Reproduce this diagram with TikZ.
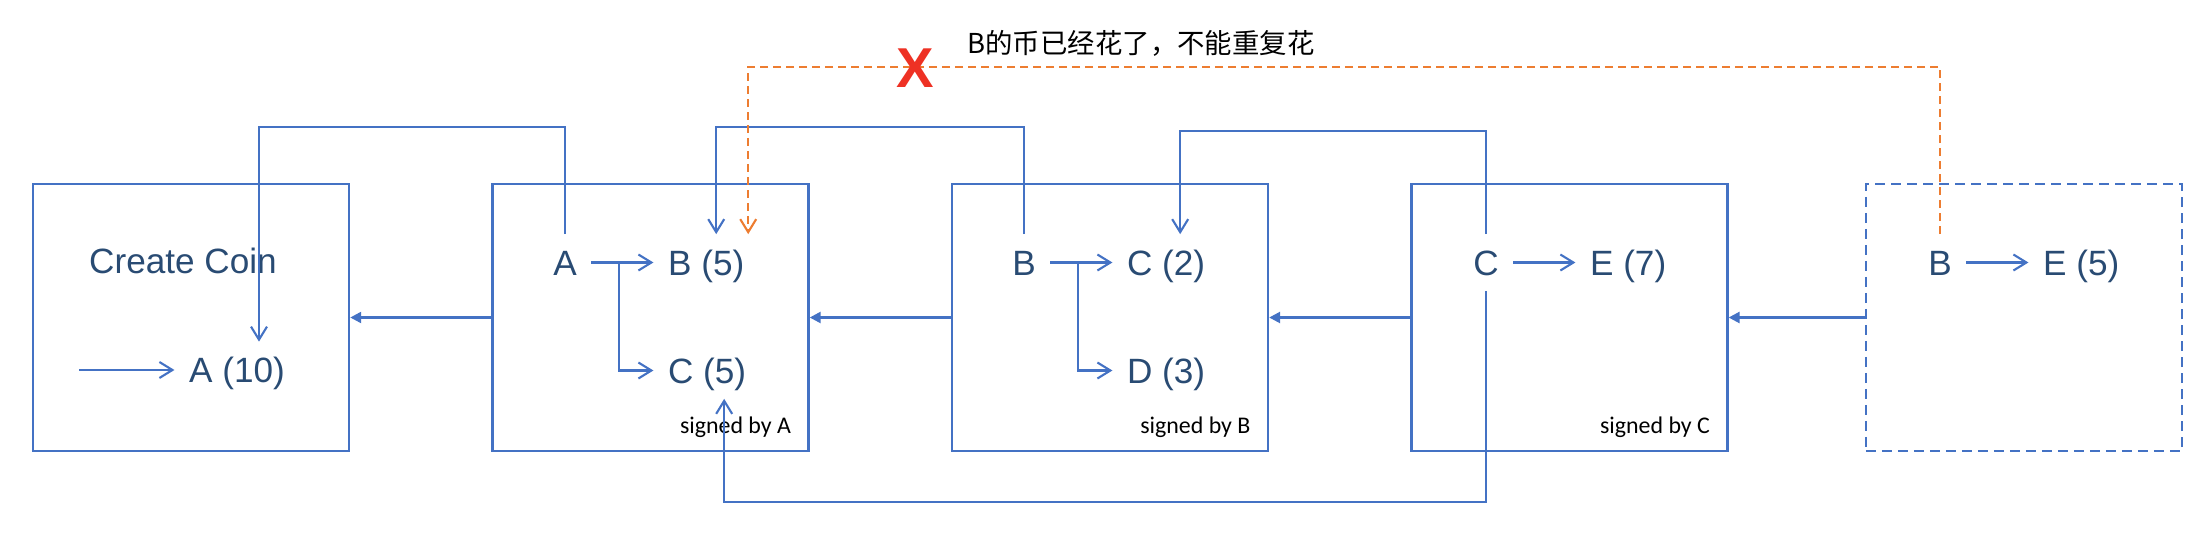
\documentclass[tikz,border=0pt]{standalone}
\usepackage{fontspec}
\setmainfont{Liberation Sans}
\newfontfamily\signfont{Carlito}
\newfontfamily\cjkfont{Noto Sans CJK SC}
\usetikzlibrary{arrows.meta,positioning}
\definecolor{lineblue}{HTML}{4472C4}
\definecolor{textnavy}{HTML}{294B73}
\definecolor{spentorange}{HTML}{ED7D31}
\definecolor{crossred}{HTML}{EE3124}

\begin{document}
\begin{tikzpicture}[
  node distance=1.41cm,
  block/.style={draw=lineblue,line width=0.7pt,minimum width=3.16cm,minimum height=2.67cm,inner sep=0pt},
  item/.style={text=textnavy,font=\fontsize{10pt}{12pt}\selectfont,text height=7.2pt,text depth=0pt,inner xsep=1.4mm,inner ysep=1.5mm},
  sign/.style={font=\signfont\fontsize{6.8pt}{8pt}\selectfont,inner sep=0pt},
  chain/.style={-{Triangle[length=1.1mm,width=1.1mm]},line width=0.7pt,lineblue},
  flow/.style={-{Straight Barb[length=1.3mm,width=1.6mm]},line width=0.6pt,lineblue},
  spent/.style={flow,spentorange,dash pattern=on 0.8mm off 0.5mm}
]
\useasboundingbox (0,0) rectangle (22.10,-5.34);
\node[block] (box1) at (1.91,-3.175) {};
\node[block,right=of box1] (box2) {};
\node[block,right=of box2] (box3) {};
\node[block,right=of box3] (box4) {};
\node[block,right=1.36cm of box4,dash pattern=on 1mm off 0.6mm] (box5) {};
\draw[chain] (box2) -- (box1);
\draw[chain] (box3) -- (box2);
\draw[chain] (box4) -- (box3);
\draw[chain] (box5) -- (box4);

\node[item] (coin) at (1.83,-2.61) {Create Coin};
\node[item] (a1) at (2.37,-3.70) {A (10)};
\coordinate[left=0.95cm of a1.west] (mint);
\draw[flow] (mint) -- (a1);

\node[item] (a2) at (5.65,-2.625) {A};
\node[item,right=0.62cm of a2] (b2) {B (5)};
\node[item,below=1.08cm of b2.west,anchor=west] (c2) {C (5)};
\draw[flow] (a2) -- coordinate[pos=0.45] (split2) (b2);
\draw[flow] (split2) |- (c2);
\node[sign,above left=1.4mm and 1.8mm of box2.south east] (sign2) {signed by A};

\node[item] (b3) at (10.24,-2.625) {B};
\node[item,right=0.62cm of b3] (c3) {C (2)};
\node[item,below=1.08cm of c3.west,anchor=west] (d3) {D (3)};
\draw[flow] (b3) -- coordinate[pos=0.45] (split3) (c3);
\draw[flow] (split3) |- (d3);
\node[sign,above left=1.4mm and 1.8mm of box3.south east] (sign3) {signed by B};

\node[item] (c4) at (14.86,-2.625) {C};
\node[item,right=0.62cm of c4] (e4) {E (7)};
\draw[flow] (c4) -- (e4);
\node[sign,above left=1.4mm and 1.8mm of box4.south east] (sign4) {signed by C};

\node[item] (b5) at (19.40,-2.625) {B};
\node[item,right=0.62cm of b5] (e5) {E (5)};
\draw[flow] (b5) -- (e5);

\draw[flow] (a2.north) -- ++(0,1.07) -| ([xshift=2.2mm]a1.north);
\draw[flow] (b3.north) -- ++(0,1.07) -| ([xshift=1mm]b2.north);
\draw[flow] (c4.north) -- ++(0,1.03) -| ([xshift=1.4mm]c3.north);
\draw[flow] (c4.south) -- ++(0,-2.11) -| ([xshift=1.7mm]c2.south);

\draw[spent] (b5.north) -- ++(0,1.67) -| ([xshift=4.2mm]b2.north);
\node[text=crossred,font=\bfseries\fontsize{16pt}{16pt}\selectfont,inner sep=0pt] (cross) at (9.15,-0.68) {X};
\node[font=\cjkfont\fontsize{7.8pt}{9pt}\selectfont,inner sep=0pt] (note) at (11.41,-0.43) {B的币已经花了，不能重复花};
\end{tikzpicture}
\end{document}
